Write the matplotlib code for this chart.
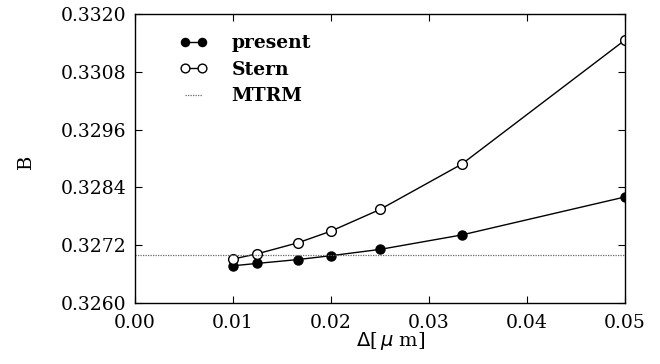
import matplotlib
matplotlib.use("Agg")
import matplotlib.pyplot as plt
import numpy as np

# --- data ---
delta = [0.01, 0.0125, 1/60, 0.02, 0.025, 1/30, 0.05]
b_present = [0.32677, 0.32682, 0.32690, 0.32698, 0.32711, 0.32741, 0.32820]
b_stern = [0.32691, 0.32702, 0.32725, 0.32749, 0.32794, 0.32888, 0.33146]
mtrm_x = [0.0, 0.05]
mtrm_b = [0.32700, 0.32700]

xticks = [0.00, 0.01, 0.02, 0.03, 0.04, 0.05]
yticks = [0.3260, 0.3272, 0.3284, 0.3296, 0.3308, 0.3320]

plt.rcParams['font.family'] = ['DejaVu Serif']

fig = plt.figure(figsize=(6.6, 3.64), dpi=100)
ax = fig.add_axes([0.2045, 0.168, 0.7425, 0.7935])

ax.plot(delta, b_present, '-o', color='black', lw=1.0, ms=6.5,
        mfc='black', mec='black', label='present')
ax.plot(delta, b_stern, '-o', color='black', lw=1.0, ms=7,
        mfc='white', mec='black', mew=1.0, label='Stern')
ax.plot(mtrm_x, mtrm_b, linestyle=(0, (1, 1)), color='#666666', lw=0.9,
        label='MTRM')

ax.set_xlim(0.0, 0.05)
ax.set_ylim(0.3260, 0.3320)
ax.set_xticks(xticks)
ax.set_yticks(yticks)
ax.set_xticklabels([f'{v:.2f}' for v in xticks])
ax.set_yticklabels([f'{v:.4f}' for v in yticks])
ax.tick_params(direction='in', top=True, right=True, length=5,
               labelsize=13.5)
ax.tick_params(axis='x', pad=8)
ax.tick_params(axis='y', pad=6)
for s in ax.spines.values():
    s.set_linewidth(1.0)

ax.set_xlabel(r'$\Delta$[$\,\mu$ m]', fontsize=14)
ax.xaxis.set_label_coords(0.522, -0.095)
ax.set_ylabel('B', fontsize=14)
ax.yaxis.set_label_coords(-0.204, 0.49)

leg = ax.legend(loc='upper left', bbox_to_anchor=(0.09, 0.93), frameon=False,
                fontsize=13.5, numpoints=2, markerscale=0.9,
                handlelength=1.5, handletextpad=1.3,
                labelspacing=0.45, borderpad=0, borderaxespad=0)
for t in leg.get_texts():
    t.set_fontweight('bold')

fig.savefig('out.png', dpi=100)
